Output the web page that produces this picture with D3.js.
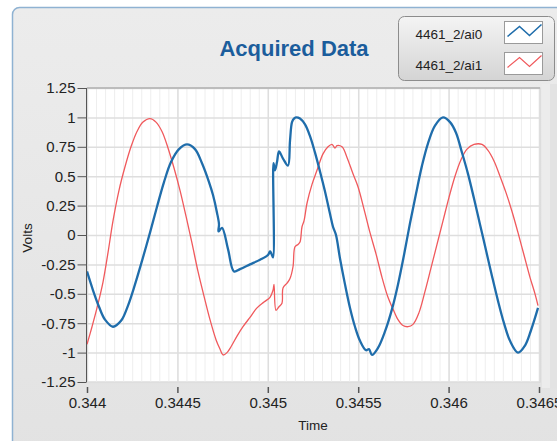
<!DOCTYPE html>
<html>
<head>
<meta charset="utf-8">
<script src="https://cdn.jsdelivr.net/npm/d3@7"></script>
<style>
body{margin:0;background:#fff;}
svg{display:block;font-family:"Liberation Sans",Arial,sans-serif;}
</style>
</head>
<body>
<svg id="chart" width="557" height="441"></svg>
<script>
var xTicks=[0.344,0.3445,0.345,0.3455,0.346,0.3465]
var yTicks=[1.25,1,0.75,0.5,0.25,0,-0.25,-0.5,-0.75,-1,-1.25]
var seriesNames=["4461_2/ai0","4461_2/ai1"]

//---ai0 (blue)---
var ai0Time=[0.3440000,0.3440332,0.3440664,0.3440996,0.3441438,0.3441881,0.3442268,0.3442655,0.3443042,0.3443485,
  0.3443872,0.3444259,0.3444646,0.3445089,0.3445531,0.3445973,0.3446361,0.3446748,0.3446969,0.3447190,
  0.3447301,0.3447273,0.3447467,0.3447799,0.3448131,0.3448462,0.3449016,0.3449569,0.3450011,0.3450122,
  0.3450177,0.3450288,0.3450315,0.3450398,0.3450509,0.3450620,0.3450841,0.3451117,0.3451228,0.3451339,
  0.3451449,0.3451560,0.3451781,0.3452058,0.3452334,0.3452611,0.3452887,0.3453164,0.3453440,0.3453606,
  0.3453772,0.3453993,0.3454270,0.3454547,0.3454823,0.3455100,0.3455431,0.3455597,0.3455763,0.3456095,
  0.3456482,0.3456870,0.3457201,0.3457533,0.3457865,0.3458197,0.3458529,0.3458861,0.3459248,0.3459690,
  0.3460078,0.3460409,0.3460741,0.3461073,0.3461405,0.3461737,0.3462069,0.3462401,0.3462732,0.3463064,
  0.3463396,0.3463839,0.3464226,0.3464558,0.3464945]
var ai0Volts=[-0.31,-0.47,-0.61,-0.72,-0.78,-0.73,-0.60,-0.42,-0.22,0.02,
  0.24,0.45,0.62,0.73,0.77,0.73,0.61,0.45,0.34,0.19,
  0.09,0.03,0.06,-0.12,-0.31,-0.29,-0.25,-0.21,-0.17,-0.14,
  -0.15,-0.19,0.61,0.55,0.62,0.71,0.65,0.59,0.80,0.96,
  0.99,1.00,0.99,0.94,0.84,0.70,0.54,0.37,0.18,0.07,
  0.00,-0.20,-0.42,-0.62,-0.78,-0.90,-0.98,-0.97,-1.02,-0.96,
  -0.82,-0.63,-0.42,-0.17,0.10,0.35,0.59,0.78,0.93,1.00,
  0.96,0.87,0.70,0.52,0.31,0.09,-0.13,-0.35,-0.56,-0.75,
  -0.90,-1.00,-0.94,-0.81,-0.62]

//---ai1 (red)---
var ai1Time=[0.3440000,0.3440277,0.3440553,0.3440885,0.3441162,0.3441438,0.3441770,0.3442102,0.3442434,0.3442766,
  0.3443097,0.3443485,0.3443816,0.3444148,0.3444480,0.3444812,0.3445144,0.3445476,0.3445808,0.3446139,
  0.3446471,0.3446803,0.3447135,0.3447356,0.3447522,0.3447743,0.3447965,0.3448297,0.3448628,0.3449016,
  0.3449403,0.3449790,0.3450122,0.3450288,0.3450343,0.3450454,0.3450620,0.3450785,0.3450841,0.3451062,
  0.3451228,0.3451394,0.3451504,0.3451670,0.3451781,0.3451892,0.3452002,0.3452168,0.3452445,0.3452721,
  0.3453053,0.3453330,0.3453551,0.3453717,0.3453828,0.3454104,0.3454381,0.3454712,0.3454989,0.3455321,
  0.3455653,0.3455985,0.3456316,0.3456648,0.3456925,0.3457201,0.3457478,0.3457755,0.3458031,0.3458363,
  0.3458695,0.3459027,0.3459359,0.3459690,0.3460022,0.3460354,0.3460686,0.3461018,0.3461405,0.3461847,
  0.3462179,0.3462511,0.3462843,0.3463175,0.3463507,0.3463839,0.3464170,0.3464502,0.3464779,0.3464945]
var ai1Volts=[-0.93,-0.78,-0.62,-0.40,-0.15,0.12,0.38,0.58,0.75,0.88,
  0.96,0.99,0.96,0.88,0.74,0.57,0.38,0.16,-0.07,-0.31,
  -0.52,-0.72,-0.89,-0.97,-1.02,-1.00,-0.95,-0.86,-0.78,-0.70,
  -0.62,-0.57,-0.53,-0.47,-0.42,-0.64,-0.61,-0.58,-0.45,-0.41,
  -0.37,-0.27,-0.10,-0.08,-0.06,0.07,0.12,0.27,0.43,0.55,
  0.69,0.75,0.77,0.74,0.76,0.75,0.66,0.52,0.41,0.22,
  0.02,-0.16,-0.36,-0.53,-0.63,-0.72,-0.77,-0.78,-0.76,-0.66,
  -0.48,-0.28,-0.08,0.12,0.32,0.50,0.64,0.73,0.77,0.77,
  0.72,0.63,0.50,0.36,0.20,0.02,-0.17,-0.36,-0.50,-0.60]

var colors=["#1f6dab","#f0595c"]

var svg=d3.select("#chart")
var defs=svg.append("defs")

var pg=defs.append("linearGradient").attr("id","panelGrad").attr("x1",0).attr("y1",0).attr("x2",0).attr("y2",1)
pg.append("stop").attr("offset","0%").attr("stop-color","#ececec")
pg.append("stop").attr("offset","100%").attr("stop-color","#e2e2e2")

var lg=defs.append("linearGradient").attr("id","legGrad").attr("x1",0).attr("y1",0).attr("x2",0).attr("y2",1)
lg.append("stop").attr("offset","0%").attr("stop-color","#f4f4f4")
lg.append("stop").attr("offset","100%").attr("stop-color","#d4d4d4")

// outer panel
svg.append("rect")
  .attr("x",12.5).attr("y",7.5).attr("width",580).attr("height",460).attr("rx",7)
  .attr("fill","url(#panelGrad)").attr("stroke","#8fb2d2").attr("stroke-width",1.5)

var pLeft=87, pRight=539, pTop=88, pBottom=382

var xScale=d3.scaleLinear().domain([0.344,0.3465]).range([pLeft,pRight])
var yScale=d3.scaleLinear().domain([-1.25,1.25]).range([pBottom,pTop])

// right strip
svg.append("rect").attr("x",542).attr("y",84).attr("width",8).attr("height",304).attr("fill","#ececec")
svg.append("rect").attr("x",550).attr("y",84).attr("width",10).attr("height",304).attr("fill","#e3e3e3")

// plot background
svg.append("rect").attr("x",pLeft).attr("y",pTop).attr("width",pRight-pLeft+1).attr("height",pBottom-pTop)
  .attr("fill","#fff").attr("stroke","#cfcfcf")

var plotG=svg.append("g")

// minor vertical grid
plotG.append("g").attr("transform","translate(0,"+pBottom+")")
  .call(d3.axisBottom(xScale).tickValues(xScale.ticks(50)).tickSize(-(pBottom-pTop)).tickFormat(""))
  .call(function(g){g.select(".domain").remove()})
  .selectAll("line").attr("stroke","#eeeeee")

// major grid
plotG.append("g").attr("transform","translate(0,"+pBottom+")")
  .call(d3.axisBottom(xScale).tickValues(xTicks).tickSize(-(pBottom-pTop)).tickFormat(""))
  .call(function(g){g.select(".domain").remove()})
  .selectAll("line").attr("stroke","#dedede").attr("stroke-width",1.5)
plotG.append("g").attr("transform","translate("+pLeft+",0)")
  .call(d3.axisLeft(yScale).tickValues(yTicks).tickSize(-(pRight-pLeft)).tickFormat(""))
  .call(function(g){g.select(".domain").remove()})
  .selectAll("line").attr("stroke","#dedede").attr("stroke-width",1.5)

// plot frame top
svg.append("line").attr("x1",pLeft).attr("x2",pRight+1).attr("y1",pTop).attr("y2",pTop).attr("stroke","#9a9a9a")

// lines
var clip=defs.append("clipPath").attr("id","plotClip")
clip.append("rect").attr("x",pLeft).attr("y",pTop).attr("width",pRight-pLeft+1).attr("height",pBottom-pTop)

var line=d3.line()
  .x(function(d){return xScale(d[0])})
  .y(function(d){return yScale(d[1])})
  .curve(d3.curveCatmullRom.alpha(0.5))

var ai1=ai1Time.map(function(t,i){return [t,ai1Volts[i]]})
var ai0=ai0Time.map(function(t,i){return [t,ai0Volts[i]]})

svg.append("path").datum(ai1).attr("clip-path","url(#plotClip)")
  .attr("fill","none").attr("stroke",colors[1]).attr("stroke-width",1.3).attr("stroke-linejoin","round")
  .attr("d",line)
svg.append("path").datum(ai0).attr("clip-path","url(#plotClip)")
  .attr("fill","none").attr("stroke",colors[0]).attr("stroke-width",2.3).attr("stroke-linejoin","round")
  .attr("d",line)

// y axis
var yAxis=svg.append("g").attr("transform","translate("+(pLeft-0.5)+",0)")
  .call(d3.axisLeft(yScale).tickValues(yTicks).tickSize(9).tickPadding(2).tickFormat(function(d){return String(d)}))
yAxis.select(".domain").attr("stroke","#555").attr("d","M0,"+pTop+"V"+pBottom)
yAxis.selectAll("line").attr("stroke","#555")
yAxis.selectAll("text").attr("fill","#222").style("font-size","15px").style("font-family","'Liberation Sans',Arial,sans-serif")

// x axis
var xAxis=svg.append("g").attr("transform","translate(0,"+(pBottom+5)+")")
  .call(d3.axisBottom(xScale).tickValues(xTicks).tickSize(6).tickPadding(4).tickFormat(function(d){return String(d)}))
xAxis.select(".domain").remove()
xAxis.selectAll("line").attr("stroke","#555").attr("stroke-width",1.5)
xAxis.selectAll("text").attr("fill","#222").style("font-size","15px").style("font-family","'Liberation Sans',Arial,sans-serif")

// titles
svg.append("text").attr("x",294).attr("y",56).attr("text-anchor","middle")
  .attr("fill","#1b5d9c").style("font-size","22px").style("font-weight","bold").text("Acquired Data")
svg.append("text").attr("transform","translate(32,238) rotate(-90)").attr("text-anchor","middle")
  .attr("fill","#222").style("font-size","13.5px").text("Volts")
svg.append("text").attr("x",313).attr("y",430).attr("text-anchor","middle")
  .attr("fill","#222").style("font-size","13.5px").text("Time")

// legend
var leg=svg.append("g").attr("transform","translate(398.5,16.5)")
leg.append("rect").attr("width",156).attr("height",64).attr("rx",6)
  .attr("fill","url(#legGrad)").attr("stroke","#8c8c8c")
var item=leg.selectAll(".item").data(seriesNames).enter().append("g")
  .attr("transform",function(d,i){return "translate(0,"+(i*31)+")"})
item.append("text").attr("x",17).attr("y",22).attr("fill","#222").style("font-size","13.5px")
  .text(function(d){return d})
item.append("rect").attr("x",106).attr("y",5).attr("width",38).attr("height",22)
  .attr("fill","#fff").attr("stroke","#9a9a9a")
item.append("path").attr("d","M109,20L121,10L131,19L143,8")
  .attr("fill","none").attr("stroke",function(d,i){return colors[i]}).attr("stroke-width",function(d,i){return i==0?1.6:1.2})
</script>
</body>
</html>
